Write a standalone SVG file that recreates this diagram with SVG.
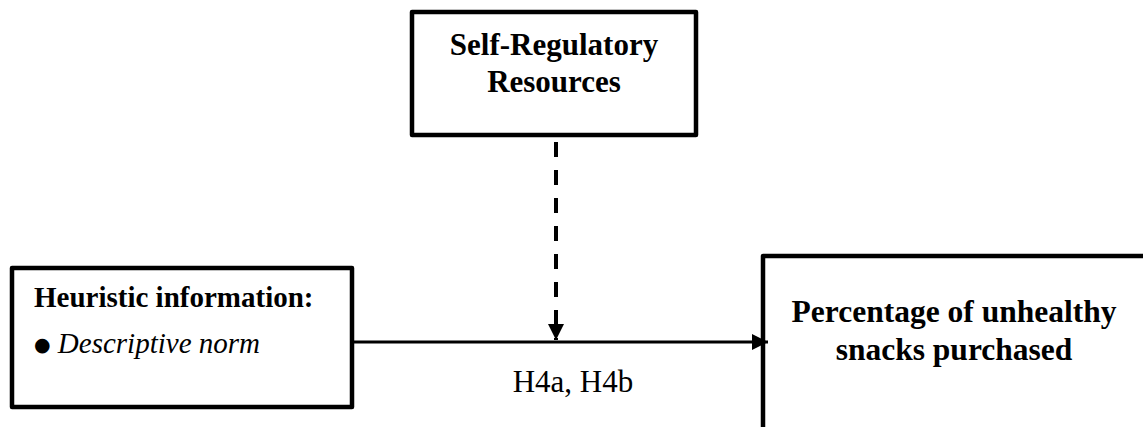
<svg xmlns="http://www.w3.org/2000/svg" width="1143" height="427" viewBox="0 0 1143 427">
<style>
.box{fill:#fff;stroke:#000;stroke-width:4.5;stroke-linejoin:round}
.t{font-family:"Liberation Serif","Times New Roman",serif;fill:#000}
.b{font-weight:bold}
.line{stroke:#000;stroke-width:3;fill:none}
.dash{stroke:#000;stroke-width:4;fill:none;stroke-dasharray:15,13}
</style>
<defs>
<marker id="ah" viewBox="0 0 16 16" refX="16" refY="8" markerWidth="16" markerHeight="16" markerUnits="userSpaceOnUse" orient="auto">
<path d="M0,0 L16,8 L0,16 Z" fill="#000"/>
</marker>
</defs>
<g id="node-self-regulatory">
<rect class="box" x="412" y="12" width="284" height="123"/>
<text class="t b" x="554" y="55" font-size="31" text-anchor="middle">Self-Regulatory</text>
<text class="t b" x="554" y="92" font-size="31" text-anchor="middle">Resources</text>
</g>
<g id="node-heuristic">
<rect class="box" x="12" y="268" width="340" height="139"/>
<text class="t b" x="34" y="307" font-size="29">Heuristic information:</text>
<text class="t" x="34" y="353" font-size="29"><tspan font-family="'DejaVu Sans',sans-serif" font-size="19" dy="-2">●</tspan><tspan dy="2" font-style="italic"> Descriptive norm</tspan></text>
</g>
<g id="node-percentage">
<rect class="box" x="763" y="256" width="420" height="220"/>
<text class="t b" x="954" y="322" font-size="31.5" text-anchor="middle">Percentage of unhealthy</text>
<text class="t b" x="954" y="360" font-size="31.5" text-anchor="middle">snacks purchased</text>
</g>
<g id="connectors">
<line class="line" x1="353" y1="342" x2="768" y2="342" marker-end="url(#ah)"/>
<line class="dash" x1="556" y1="142" x2="556" y2="340" marker-end="url(#ah)"/>
<text class="t" x="573" y="392" font-size="31" text-anchor="middle">H4a, H4b</text>
</g>
</svg>
